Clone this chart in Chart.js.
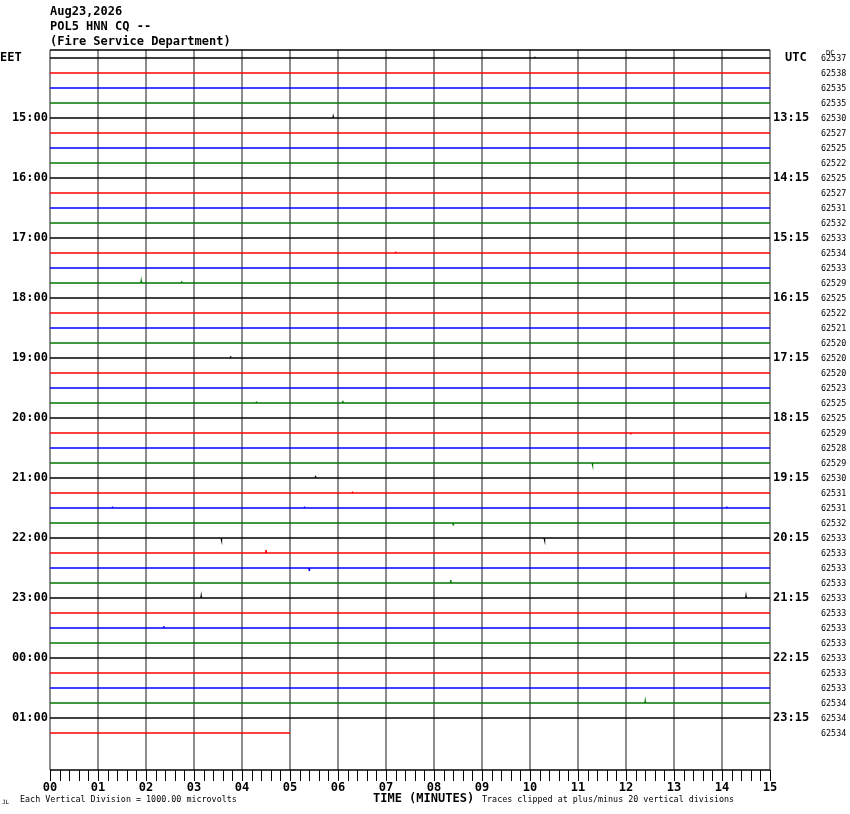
<!DOCTYPE html>
<html>
<head>
<meta charset="utf-8">
<script src="https://cdn.jsdelivr.net/npm/chart.js@4/dist/chart.umd.min.js"></script>
<style>
  html, body { margin: 0; padding: 0; background: #fff; }
  canvas { display: block; }
</style>
</head>
<body>
<canvas id="heli" width="850" height="814"></canvas>
<script>
// header lines
const titleLines = ["Aug23,2026", "POL5 HNN CQ --", "(Fire Service Department)"];

// minute ticks on the time axis
const minuteLabels = ["00","01","02","03","04","05","06","07","08","09","10","11","12","13","14","15"];

// hourly labels, one every 4 traces
const eetLabels = ["EET","15:00","16:00","17:00","18:00","19:00","20:00","21:00","22:00","23:00","00:00","01:00"];
const utcLabels = ["UTC","13:15","14:15","15:15","16:15","17:15","18:15","19:15","20:15","21:15","22:15","23:15"];

// DC offset printed at the right of every trace
const dcValues = [
  62537, 62538, 62535, 62535, 62530, 62527, 62525, 62522,
  62525, 62527, 62531, 62532, 62533, 62534, 62533, 62529,
  62525, 62522, 62521, 62520, 62520, 62520, 62523, 62525,
  62525, 62529, 62528, 62529, 62530, 62531, 62531, 62532,
  62533, 62533, 62533, 62533, 62533, 62533, 62533, 62533,
  62533, 62533, 62533, 62534, 62534, 62534
];

// how far each trace runs (minutes); the last one stops at 05
const traceEnds = dcValues.map((v, i) => i === dcValues.length - 1 ? 5 : 15);

// the few visible wiggles: [trace, minute, deflection in divisions (negative = up)]
const spikes = [
  [0, 10.1, -0.08], [4, 5.9, -0.08], [13, 7.2, -0.1], [15, 1.9, -0.12], [15, 2.74, -0.12],
  [20, 3.76, -0.12], [23, 4.3, -0.1], [23, 6.1, -0.15], [25, 12.1, 0.1],
  [27, 11.3, 0.1], [28, 5.53, -0.15], [29, 6.3, -0.1], [30, 1.3, -0.1], [30, 5.3, -0.1],
  [30, 14.1, -0.1], [31, 8.4, 0.12], [32, 3.57, 0.1], [32, 10.3, 0.1], [33, 4.5, -0.2],
  [34, 5.4, 0.15], [35, 8.35, -0.2], [36, 3.15, -0.12], [36, 14.5, -0.12],
  [38, 2.37, -0.12], [43, 12.4, -0.12]
];

const traceColors = ["#000000", "#ff0000", "#0000ff", "#007800"];

const datasets = dcValues.map((dc, i) => {
  const pts = [{ x: 0, y: i }];
  spikes.filter(s => s[0] === i).sort((a, b) => a[1] - b[1]).forEach(s => {
    pts.push({ x: s[1] - 0.005, y: i });
    pts.push({ x: s[1], y: i + s[2] });
    pts.push({ x: s[1] + 0.005, y: i });
  });
  pts.push({ x: traceEnds[i], y: i });
  return {
    data: pts,
    borderColor: traceColors[i % 4],
    borderWidth: 1.4,
    pointRadius: 0,
    tension: 0
  };
});

const mono = '"DejaVu Sans Mono", "Liberation Mono", monospace';

const frame = {
  id: "frame",
  beforeDatasetsDraw(c) {
    const ctx = c.ctx, x = c.scales.x, a = c.chartArea;
    ctx.save();
    ctx.strokeStyle = "#8c8c8c";
    ctx.lineWidth = 2;
    minuteLabels.forEach((l, m) => {
      const px = Math.round(x.getPixelForValue(m));
      ctx.beginPath();
      ctx.moveTo(px, a.top);
      ctx.lineTo(px, a.bottom);
      ctx.stroke();
    });
    ctx.strokeStyle = "#000";
    ctx.lineWidth = 1.5;
    ctx.beginPath();
    ctx.moveTo(a.left, a.top);
    ctx.lineTo(a.right, a.top);
    ctx.stroke();
    ctx.restore();
  },
  afterDraw(c) {
    const ctx = c.ctx, x = c.scales.x, y = c.scales.y, a = c.chartArea;
    ctx.save();
    // time axis
    ctx.strokeStyle = "#000";
    ctx.lineWidth = 1.5;
    ctx.beginPath();
    ctx.moveTo(a.left, a.bottom);
    ctx.lineTo(a.right, a.bottom);
    ctx.stroke();
    ctx.lineWidth = 1;
    for (let k = 0; k <= 75; k++) {
      const px = Math.round(x.getPixelForValue(k / 5)) + 0.5;
      ctx.beginPath();
      ctx.moveTo(px, a.bottom);
      ctx.lineTo(px, a.bottom + 11);
      ctx.stroke();
    }
    ctx.fillStyle = "#000";
    ctx.font = "bold 12px " + mono;
    ctx.textAlign = "center";
    ctx.textBaseline = "middle";
    minuteLabels.forEach((l, m) => ctx.fillText(l, x.getPixelForValue(m), a.bottom + 18));

    // header
    ctx.textAlign = "left";
    titleLines.forEach((t, i) => ctx.fillText(t, 50, 12 + 15 * i));

    // hour labels
    eetLabels.forEach((l, k) => {
      const py = y.getPixelForValue(4 * k);
      if (k === 0) {
        ctx.textAlign = "left";
        ctx.fillText(l, 0, py);
      } else {
        ctx.textAlign = "right";
        ctx.fillText(l, 48, py);
      }
    });
    ctx.textAlign = "left";
    utcLabels.forEach((l, k) => {
      ctx.fillText(l, k === 0 ? 785 : 773, y.getPixelForValue(4 * k));
    });

    // bottom captions
    ctx.fillText("TIME (MINUTES)", 373, 799);
    ctx.font = "8.4px " + mono;
    ctx.fillText("Each Vertical Division = 1000.00 microvolts", 20, 800);
    ctx.fillText("Traces clipped at plus/minus 20 vertical divisions", 482, 800);
    ctx.font = "6px " + mono;
    ctx.fillText("JL", 2, 802);

    // DC column
    ctx.font = "8.4px " + mono;
    dcValues.forEach((v, i) => ctx.fillText(String(v), 821, y.getPixelForValue(i) + 1));
    ctx.font = "7px " + mono;
    ctx.fillText("DC", 826, 53);
    ctx.restore();
  }
};

new Chart(document.getElementById("heli"), {
  type: "line",
  data: { datasets },
  options: {
    responsive: false,
    animation: false,
    devicePixelRatio: 1,
    layout: { padding: { left: 50, right: 80, top: 50, bottom: 44 } },
    plugins: { legend: { display: false }, tooltip: { enabled: false } },
    scales: {
      x: { type: "linear", min: 0, max: 15, display: false },
      y: { type: "linear", min: -8 / 15, max: 712 / 15, reverse: true, display: false }
    }
  },
  plugins: [frame]
});
</script>
</body>
</html>
